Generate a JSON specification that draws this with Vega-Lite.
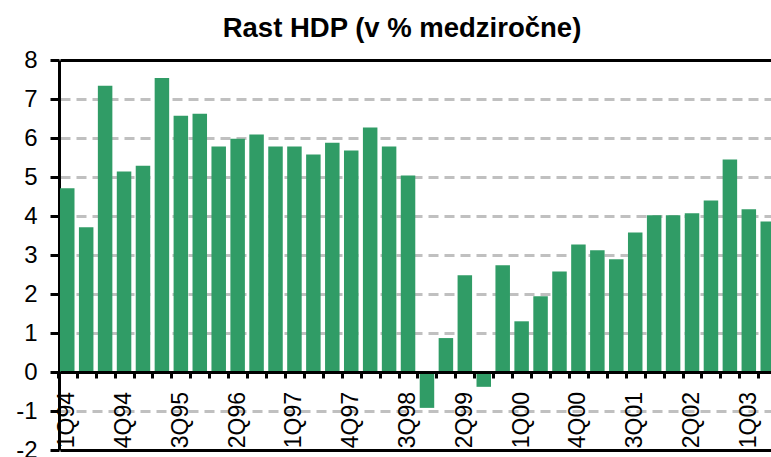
{
  "$schema": "https://vega.github.io/schema/vega-lite/v6.json",
  "autosize": {"type": "none"},
  "padding": {"left": 59, "top": 60, "right": 0, "bottom": 7},
  "width": 712,
  "height": 390,
  "background": "white",
  "title": {
    "text": "Rast HDP (v % medziročne)",
    "font": "Liberation Sans",
    "fontSize": 27.5,
    "fontWeight": "bold",
    "color": "black",
    "anchor": "middle",
    "dx": -13,
    "offset": 6
  },
  "data": {
    "values": [
      {"q": "1Q94", "g": 4.71, "lab": "1Q94"}, {"q": "2Q94", "g": 3.71, "lab": ""}, {"q": "3Q94", "g": 7.34, "lab": ""}, {"q": "4Q94", "g": 5.14, "lab": "4Q94"},
      {"q": "1Q95", "g": 5.29, "lab": ""}, {"q": "2Q95", "g": 7.54, "lab": ""}, {"q": "3Q95", "g": 6.57, "lab": "3Q95"}, {"q": "4Q95", "g": 6.62, "lab": ""},
      {"q": "1Q96", "g": 5.78, "lab": ""}, {"q": "2Q96", "g": 5.98, "lab": "2Q96"}, {"q": "3Q96", "g": 6.09, "lab": ""}, {"q": "4Q96", "g": 5.78, "lab": ""},
      {"q": "1Q97", "g": 5.78, "lab": "1Q97"}, {"q": "2Q97", "g": 5.58, "lab": ""}, {"q": "3Q97", "g": 5.88, "lab": ""}, {"q": "4Q97", "g": 5.68, "lab": "4Q97"},
      {"q": "1Q98", "g": 6.27, "lab": ""}, {"q": "2Q98", "g": 5.78, "lab": ""}, {"q": "3Q98", "g": 5.04, "lab": "3Q98"}, {"q": "4Q98", "g": -0.92, "lab": ""},
      {"q": "1Q99", "g": 0.87, "lab": ""}, {"q": "2Q99", "g": 2.48, "lab": "2Q99"}, {"q": "3Q99", "g": -0.38, "lab": ""}, {"q": "4Q99", "g": 2.74, "lab": ""},
      {"q": "1Q00", "g": 1.3, "lab": "1Q00"}, {"q": "2Q00", "g": 1.94, "lab": ""}, {"q": "3Q00", "g": 2.58, "lab": ""}, {"q": "4Q00", "g": 3.27, "lab": "4Q00"},
      {"q": "1Q01", "g": 3.12, "lab": ""}, {"q": "2Q01", "g": 2.89, "lab": ""}, {"q": "3Q01", "g": 3.58, "lab": "3Q01"}, {"q": "4Q01", "g": 4.02, "lab": ""},
      {"q": "1Q02", "g": 4.02, "lab": ""}, {"q": "2Q02", "g": 4.07, "lab": "2Q02"}, {"q": "3Q02", "g": 4.4, "lab": ""}, {"q": "4Q02", "g": 5.45, "lab": ""},
      {"q": "1Q03", "g": 4.17, "lab": "1Q03"}, {"q": "2Q03", "g": 3.86, "lab": ""}
    ]
  },
  "encoding": {
    "x": {
      "field": "q",
      "type": "ordinal",
      "sort": null,
      "scale": {"range": [1, 716], "paddingInner": 0.234, "paddingOuter": 0},
      "axis": {
        "title": null,
        "orient": "bottom",
        "offset": -78,
        "zindex": 1,
        "domainColor": "black",
        "domainWidth": 3,
        "ticks": true,
        "tickColor": "black",
        "tickWidth": 3,
        "tickSize": 6,
        "bandPosition": 0.5,
        "tickOffset": -9.47,
        "labels": false,
        "grid": false
      }
    }
  },
  "layer": [
    {
      "mark": {"type": "bar", "color": "#309c66"},
      "encoding": {
        "y": {
          "field": "g",
          "type": "quantitative",
          "scale": {"domain": [-2, 8], "nice": false, "zero": false},
          "axis": {
            "title": null,
            "values": [-2, -1, 0, 1, 2, 3, 4, 5, 6, 7, 8],
            "zindex": 0,
            "domainColor": "black",
            "domainWidth": 3,
            "tickColor": "black",
            "tickWidth": 3,
            "tickSize": 9,
            "labelFont": "Liberation Sans",
            "labelFontSize": 24,
            "labelColor": "black",
            "labelPadding": 13,
            "labelOverlap": false,
            "labelBound": false,
            "labelExpr": "datum.value + ''",
            "grid": true,
            "gridColor": {"condition": {"test": "datum.value === 8 || datum.value === -2", "value": "black"}, "value": "#c0c0c0"},
            "gridDash": {"condition": {"test": "datum.value === 8 || datum.value === -2", "value": []}, "value": [10, 6]},
            "gridWidth": 3
          }
        }
      }
    },
    {
      "mark": {
        "type": "text",
        "angle": 270,
        "align": "right",
        "baseline": "middle",
        "dx": -20,
        "font": "Liberation Sans",
        "fontSize": 23,
        "color": "black"
      },
      "encoding": {
        "y": {
          "datum": 0,
          "type": "quantitative",
          "axis": {
            "title": null,
            "values": [-2, -1, 0, 1, 2, 3, 4, 5, 6, 7, 8],
            "zindex": 0,
            "domainColor": "black",
            "domainWidth": 3,
            "tickColor": "black",
            "tickWidth": 3,
            "tickSize": 9,
            "labelFont": "Liberation Sans",
            "labelFontSize": 24,
            "labelColor": "black",
            "labelPadding": 13,
            "labelOverlap": false,
            "labelBound": false,
            "labelExpr": "datum.value + ''",
            "grid": true,
            "gridColor": {"condition": {"test": "datum.value === 8 || datum.value === -2", "value": "black"}, "value": "#c0c0c0"},
            "gridDash": {"condition": {"test": "datum.value === 8 || datum.value === -2", "value": []}, "value": [10, 6]},
            "gridWidth": 3
          }
        },
        "text": {"field": "lab"}
      }
    }
  ],
  "config": {"view": {"stroke": null}}
}
